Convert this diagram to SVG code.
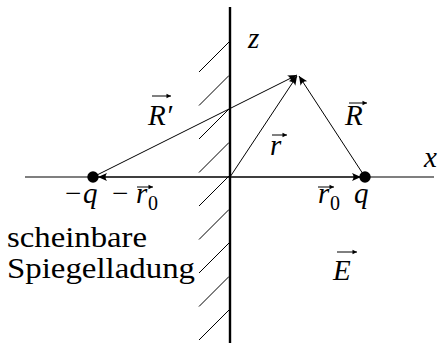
<svg xmlns="http://www.w3.org/2000/svg" width="442" height="343" viewBox="0 0 442 343">
<style>
.m{font-style:italic;font-size:29px}
.t{font-size:30px}
.s{font-size:20px}
.v{stroke:#000;stroke-width:1;fill:none}
.h{stroke:#000;stroke-width:1;fill:none}
.va{stroke:#000;stroke-width:1;fill:none}
</style>
<defs>
<marker id="ah" markerUnits="userSpaceOnUse" markerWidth="12" markerHeight="10" viewBox="-10 -5 12 10" refX="0" refY="0" orient="auto">
<path d="M0,0 L-9,-4 Q-6,0 -9,4 Z" fill="#000"/>
</marker>
<marker id="sa" markerUnits="userSpaceOnUse" markerWidth="8" markerHeight="6" viewBox="-5 -3 6 6" refX="0" refY="0" orient="auto">
<path d="M0,0 L-4.5,-2.2 L-4.5,2.2 Z" fill="#000"/>
</marker>
</defs>
<g id="wall">
<line x1="230" y1="7" x2="230" y2="343" stroke="#000" stroke-width="2.4"/>
<g class="h">
<line x1="199" y1="72" x2="229" y2="42"/>
<line x1="199" y1="105.5" x2="229" y2="75.5"/>
<line x1="199" y1="139" x2="229" y2="109"/>
<line x1="199" y1="172.5" x2="229" y2="142.5"/>
<line x1="199" y1="206" x2="229" y2="176"/>
<line x1="199" y1="239.5" x2="229" y2="209.5"/>
<line x1="199" y1="273" x2="229" y2="243"/>
<line x1="199" y1="306.5" x2="229" y2="276.5"/>
<line x1="199" y1="340" x2="229" y2="310"/>
</g>
</g>
<g id="axis">
<line x1="25" y1="177" x2="434" y2="177" stroke="#000" stroke-width="1.2"/>
</g>
<g id="connectors">
<line class="v" x1="230" y1="177" x2="297" y2="76" marker-end="url(#ah)"/>
<line class="v" x1="365" y1="177" x2="299" y2="76" marker-end="url(#ah)"/>
<line class="v" x1="93" y1="177" x2="297" y2="75" marker-end="url(#ah)"/>
<line class="v" x1="230" y1="177" x2="361" y2="177" marker-end="url(#ah)"/>
<line class="v" x1="230" y1="177" x2="98" y2="177" marker-end="url(#ah)"/>
</g>
<g font-family="Liberation Serif, DejaVu Serif, serif" fill="#000">
<g id="charge-minus-q">
<circle cx="93" cy="177" r="5.7" fill="#000"/>
<text class="m" x="63" y="203">−<tspan x="83">q</tspan></text>
<text class="m" x="110" y="203">−<tspan x="136">r</tspan></text>
<text class="s" x="148" y="210">0</text>
<line class="va" x1="137" y1="187" x2="153" y2="187" marker-end="url(#sa)"/>
</g>
<g id="charge-q">
<circle cx="365" cy="177" r="5.7" fill="#000"/>
<text class="m" x="354" y="203">q</text>
<text class="m" x="318" y="203">r</text>
<text class="s" x="330" y="210">0</text>
<line class="va" x1="318" y1="187" x2="334" y2="187" marker-end="url(#sa)"/>
</g>
<g id="labels">
<text class="m" x="248" y="48">z</text>
<text class="m" x="424" y="167">x</text>
<text class="m" x="148" y="125">R′</text>
<line class="va" x1="152" y1="96" x2="171" y2="96" marker-end="url(#sa)"/>
<text class="m" x="345" y="125">R</text>
<line class="va" x1="349" y1="103" x2="367" y2="103" marker-end="url(#sa)"/>
<text class="m" x="270" y="155">r</text>
<line class="va" x1="272" y1="135" x2="287" y2="135" marker-end="url(#sa)"/>
<text class="m" x="333" y="280">E</text>
<line class="va" x1="337" y1="252" x2="357" y2="252" marker-end="url(#sa)"/>
</g>
<g id="mirror-label">
<text class="t" x="7" y="247" textLength="140" lengthAdjust="spacingAndGlyphs">scheinbare</text>
<text class="t" x="7" y="278" textLength="188" lengthAdjust="spacingAndGlyphs">Spiegelladung</text>
</g>
</g>
</svg>
